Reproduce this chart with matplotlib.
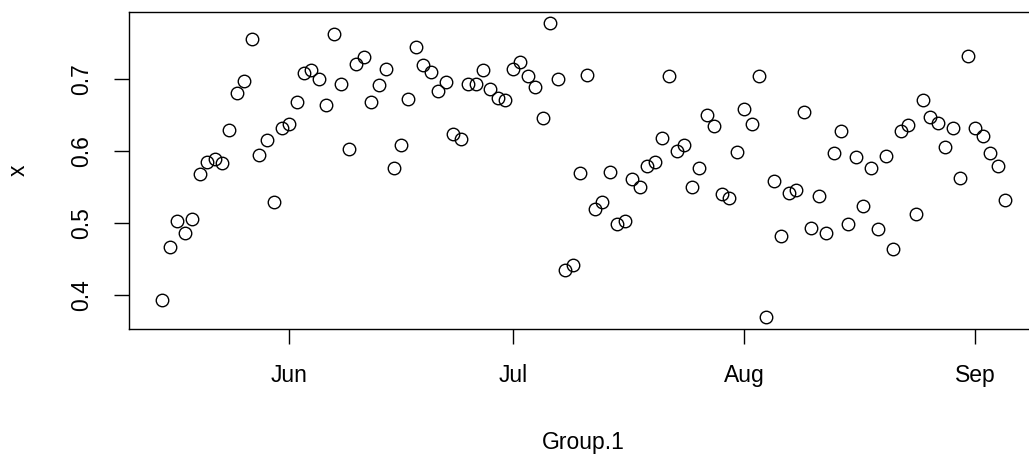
#!/usr/bin/env python3
"""Daily mean of x by date, drawn like a plain R scatter plot."""

import matplotlib

matplotlib.use("Agg")

import matplotlib.dates as mdates
import matplotlib.pyplot as plt
import pandas as pd

plt.rcParams["font.family"] = ["Liberation Sans", "DejaVu Sans"]

# one value per day, 15 May to 5 Sep
first_day = "2015-05-15"
last_day = "2015-09-05"
x_values = [
    0.392, 0.467, 0.503, 0.486, 0.506, 0.568, 0.585, 0.589, 0.584, 0.630,
    0.681, 0.698, 0.756, 0.594, 0.615, 0.529, 0.632,
    # June
    0.638, 0.669, 0.709, 0.713, 0.700, 0.664, 0.763, 0.693, 0.603, 0.721,
    0.731, 0.669, 0.692, 0.714, 0.577, 0.608, 0.673, 0.745, 0.720, 0.710,
    0.684, 0.696, 0.624, 0.617, 0.694, 0.693, 0.713, 0.687, 0.674, 0.671,
    # July
    0.714, 0.724, 0.705, 0.689, 0.646, 0.778, 0.700, 0.434, 0.441, 0.570,
    0.706, 0.519, 0.529, 0.571, 0.498, 0.503, 0.561, 0.550, 0.579, 0.585,
    0.618, 0.705, 0.600, 0.608, 0.550, 0.577, 0.650, 0.635, 0.540, 0.535,
    0.599,
    # August
    0.659, 0.638, 0.705, 0.369, 0.559, 0.482, 0.542, 0.546, 0.654, 0.493,
    0.538, 0.486, 0.597, 0.628, 0.499, 0.592, 0.524, 0.577, 0.492, 0.593,
    0.464, 0.628, 0.636, 0.512, 0.671, 0.648, 0.639, 0.606, 0.632, 0.563,
    0.732,
    # September
    0.632, 0.621, 0.597, 0.579, 0.532,
]
y_ticks = [0.4, 0.5, 0.6, 0.7]


def main() -> None:
    days = pd.date_range(first_day, last_day, freq="D")

    fig = plt.figure(figsize=(10.29, 4.57), dpi=100)
    # the plot region runs a little past the right edge of the picture
    ax = fig.add_axes([0.125, 0.2807, 0.8845, 0.694])

    ax.plot(days, x_values, linestyle="none", marker="o", markersize=9.0,
            markerfacecolor="none", markeredgecolor="black", markeredgewidth=1.0)
    ax.margins(x=0.04, y=0.04)

    ax.xaxis.set_major_locator(mdates.MonthLocator())
    ax.xaxis.set_major_formatter(mdates.DateFormatter("%b"))
    ax.set_yticks(y_ticks)
    ax.set_yticklabels([f"{v:.1f}" for v in y_ticks], rotation=90, va="center")

    for side in ("top", "right", "bottom", "left"):
        ax.spines[side].set_linewidth(1.0)
    ax.tick_params(axis="both", length=10.8, width=1.0, pad=14.5,
                   labelsize=16.5, colors="black")

    ax.set_xlabel("Group.1", fontsize=16.5, va="baseline")
    ax.xaxis.set_label_coords(0.5, -0.379)
    ax.set_ylabel("x", fontsize=16.5, va="center")
    ax.yaxis.set_label_coords(-0.121, 0.5)

    fig.savefig("out.png", dpi=100)
    plt.close(fig)


if __name__ == "__main__":
    main()
